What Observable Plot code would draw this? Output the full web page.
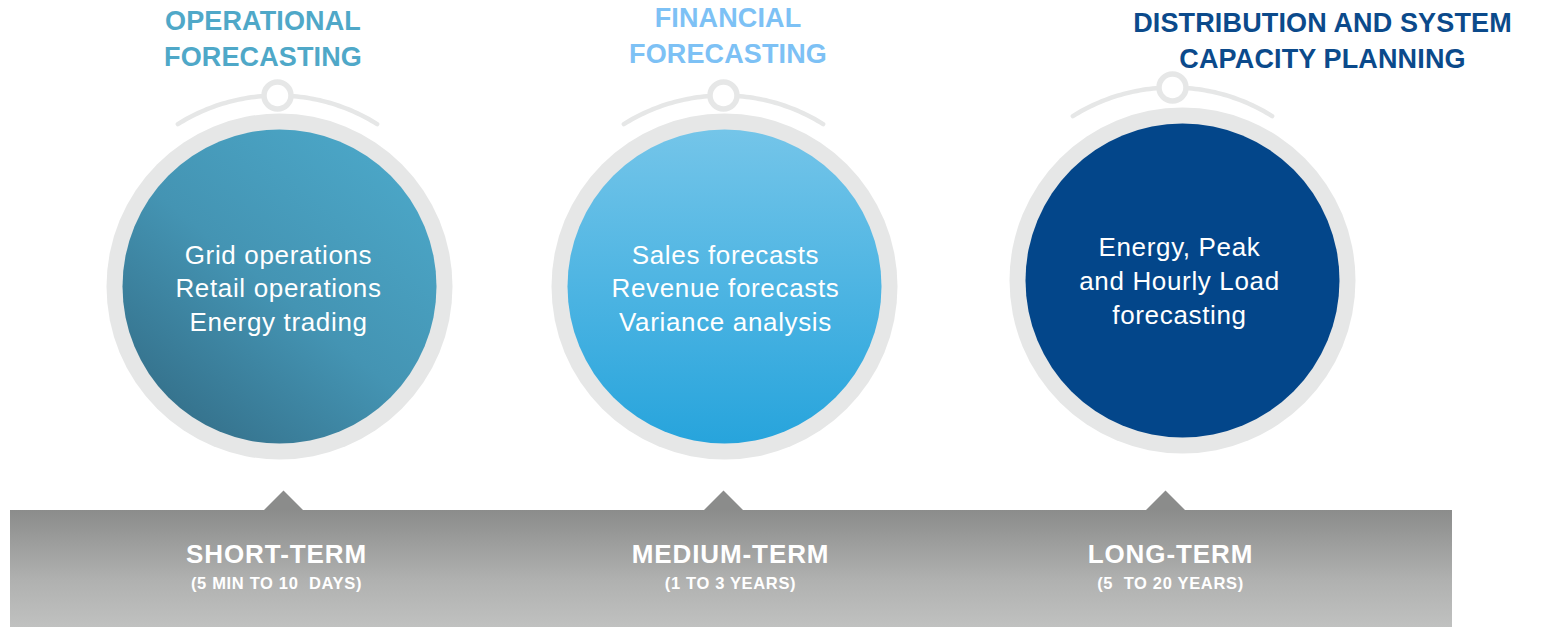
<!DOCTYPE html>
<html>
<head>
<meta charset="utf-8">
<script src="https://cdn.jsdelivr.net/npm/d3@7"></script>
<script src="https://cdn.jsdelivr.net/npm/@observablehq/plot@0.6"></script>
<style>
  html, body { margin: 0; padding: 0; background: #ffffff; }
  #chart svg text { white-space: pre; }
</style>
</head>
<body>
<div id="chart"></div>
<script>
// ---- content ----
const categories = ["OPERATIONAL\nFORECASTING", "FINANCIAL\nFORECASTING", "DISTRIBUTION AND SYSTEM\nCAPACITY PLANNING"];
const items = [
  "Grid operations\nRetail operations\nEnergy trading",
  "Sales forecasts\nRevenue forecasts\nVariance analysis",
  "Energy, Peak\nand Hourly Load\nforecasting"
];
const terms = ["SHORT-TERM", "MEDIUM-TERM", "LONG-TERM"];
const ranges = ["(5 MIN TO 10  DAYS)", "(1 TO 3 YEARS)", "(5  TO 20 YEARS)"];

// ---- layout (pixel coordinates on a 1543 x 627 canvas) ----
const circleX = [279, 724, 1182];
const circleY = [286, 286, 280];
const titleX = [262.5, 727.5, 1322];
const titleY = [35.5, 33, 38];
const itemX = [278, 725, 1179];
const itemY = [286, 286, 278.5];
const knobX = [277, 723, 1172];
const knobY = [95, 95, 87];
const termX = [276, 730, 1170];
const notchX = [283, 723, 1165];

// ---- styles ----
const titleColors = ["#4fa8c8", "#7dc1f5", "#0b4a8b"];
const circleFills = ["url(#g0)", "url(#g1)", "#03468a"];
const ringColor = "#e6e7e7";
const font = "Liberation Sans, Arial, Helvetica, sans-serif";

const nodes = categories.map((c, i) => ({
  i, title: c, items: items[i], term: terms[i], range: ranges[i],
  cx: circleX[i], cy: circleY[i], tx: titleX[i], ty: titleY[i],
  ix: itemX[i], iy: itemY[i], kx: knobX[i], ky: knobY[i],
  termX: termX[i], notchX: notchX[i],
  color: titleColors[i], fill: circleFills[i]
}));

// arc above each circle (geometry only)
const arcR = 188;
const arcPts = nodes.flatMap(n => d3.range(-32, 32.01, 1).map(a => {
  const t = a * Math.PI / 180;
  return {i: n.i, x: n.kx + arcR * Math.sin(t), y: n.ky + arcR - arcR * Math.cos(t)};
}));

const band = [{x1: 10, x2: 1452, y1: 510, y2: 627}];

const svg = Plot.plot({
  width: 1543,
  height: 627,
  margin: 0,
  x: {domain: [0, 1543], range: [0, 1543], axis: null},
  y: {domain: [0, 627], range: [0, 627], axis: null},
  color: {type: "identity"},
  style: {background: "#ffffff", fontFamily: font},
  marks: [
    // arcs and knobs
    Plot.line(arcPts, {x: "x", y: "y", z: "i", stroke: ringColor, strokeWidth: 4.5, curve: "linear"}),
    Plot.dot(nodes, {x: "kx", y: "ky", r: 13.5, fill: "#ffffff", stroke: ringColor, strokeWidth: 5.5}),
    // outer ring and inner circle
    Plot.dot(nodes, {x: "cx", y: "cy", r: 173, fill: ringColor, stroke: null}),
    Plot.dot(nodes, {x: "cx", y: "cy", r: 157, fill: "fill", stroke: null}),
    // titles
    Plot.text(nodes, {x: "tx", y: "ty", text: "title", fill: "color", fontSize: 27, fontWeight: "bold",
      lineHeight: 1.34, lineAnchor: "middle", fontFamily: font}),
    // items inside circles
    Plot.text(nodes, {x: "ix", y: "iy", text: "items", fill: "#ffffff", fontSize: 26, lineHeight: 1.3,
      lineAnchor: "middle", fontFamily: font}),
    // notches and band
    Plot.dot(nodes, {x: "notchX", y: 510, r: 18, symbol: "diamond2", fill: "#8b8c8b", stroke: null}),
    Plot.rect(band, {x1: "x1", x2: "x2", y1: "y1", y2: "y2", fill: "url(#band)"}),
    Plot.text(nodes, {x: "termX", y: 554, text: "term", fill: "#ffffff", fontSize: 26, fontWeight: "bold", fontFamily: font}),
    Plot.text(nodes, {x: "termX", y: 583, text: "range", fill: "#ffffff", fontSize: 16.5, fontWeight: "bold", fontFamily: font})
  ]
});

// letter spacing per text layer (titles, items, terms, ranges)
const spacing = ["0.005em", "0.025em", "0.035em", "0.04em"];
d3.select(svg).selectAll("g[aria-label='text']").each(function(_, k) {
  this.setAttribute("letter-spacing", spacing[k] || "0");
});

// gradients
const defs = d3.select(svg).insert("defs", ":first-child");
const g0 = defs.append("linearGradient").attr("id", "g0")
  .attr("x1", "0.85").attr("y1", "0.1").attr("x2", "0.15").attr("y2", "0.95");
g0.append("stop").attr("offset", "0").attr("stop-color", "#4ba6c7");
g0.append("stop").attr("offset", "0.5").attr("stop-color", "#4494b3");
g0.append("stop").attr("offset", "1").attr("stop-color", "#346f89");
const g1 = defs.append("linearGradient").attr("id", "g1")
  .attr("x1", "0").attr("y1", "0").attr("x2", "0").attr("y2", "1");
g1.append("stop").attr("offset", "0").attr("stop-color", "#74c5e9");
g1.append("stop").attr("offset", "1").attr("stop-color", "#27a4dc");
const gb = defs.append("linearGradient").attr("id", "band")
  .attr("x1", "0").attr("y1", "0").attr("x2", "0").attr("y2", "1");
gb.append("stop").attr("offset", "0").attr("stop-color", "#8b8c8b");
gb.append("stop").attr("offset", "0.6").attr("stop-color", "#b0b1b0");
gb.append("stop").attr("offset", "1").attr("stop-color", "#c0c1c0");

document.getElementById("chart").appendChild(svg);
</script>
</body>
</html>
